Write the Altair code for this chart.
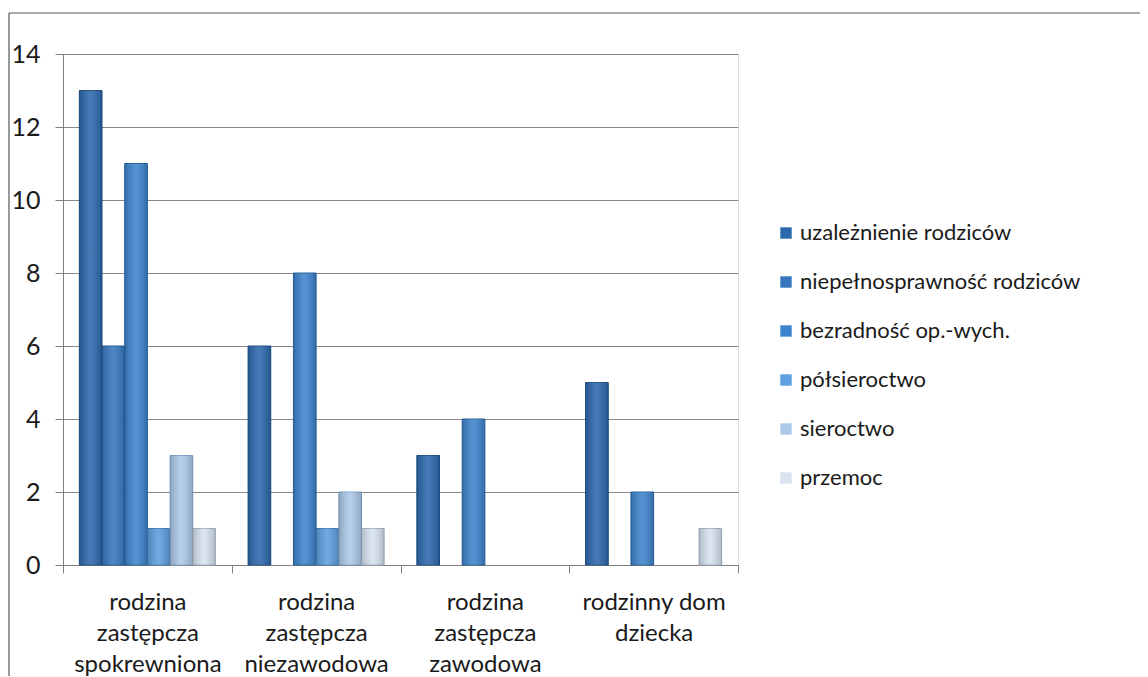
import altair as alt
import pandas as pd

categories = [
    "rodzina|zastępcza|spokrewniona",
    "rodzina|zastępcza|niezawodowa",
    "rodzina|zastępcza|zawodowa",
    "rodzinny dom|dziecka",
]
series = [
    "uzależnienie rodziców",
    "niepełnosprawność rodziców",
    "bezradność op.-wych.",
    "półsieroctwo",
    "sieroctwo",
    "przemoc",
]
values = {
    "uzależnienie rodziców":      [13, 6, 3, 5],
    "niepełnosprawność rodziców": [6, 0, 0, 0],
    "bezradność op.-wych.":       [11, 8, 4, 2],
    "półsieroctwo":               [1, 1, 0, 0],
    "sieroctwo":                  [3, 2, 0, 0],
    "przemoc":                    [1, 1, 0, 1],
}
colors = ["#2c68ad", "#3677bf", "#3d84cd", "#5d9fdf", "#adc9ea", "#d8e3ef"]
strokes = ["#1d4f86", "#24589a", "#2a63a3", "#3f7fc0", "#7fa3cc", "#9fb3c9"]
y_ticks = [0, 2, 4, 6, 8, 10, 12, 14]

rows = []
for s in series:
    for c, v in zip(categories, values[s]):
        rows.append({"cat": c, "series": s, "value": v})
df = pd.DataFrame(rows)

FONT = "Lato"
W, H = 675, 511

bars = alt.Chart(df).mark_bar(strokeWidth=1).encode(
    x=alt.X("cat:N", sort=categories,
            scale=alt.Scale(paddingInner=0, paddingOuter=0),
            axis=alt.Axis(title=None, labelExpr="split(datum.label, '|')",
                          labelAngle=0, labelFontSize=24, labelLineHeight=31,
                          labelColor="#1a1a1a", labelFont=FONT, labelPadding=17,
                          tickBand="extent", tickSize=8, tickColor="#808080",
                          domainColor="#808080", grid=False)),
    xOffset=alt.XOffset("series:N", sort=series,
                        scale=alt.Scale(domain=series, paddingInner=0, paddingOuter=0.72)),
    y=alt.Y("value:Q",
            scale=alt.Scale(domain=[0, 14], nice=False),
            axis=alt.Axis(title=None, values=y_ticks, labelFontSize=25,
                          labelFont=FONT, labelColor="#1a1a1a", labelPadding=15,
                          tickSize=8, tickColor="#808080", domainColor="#808080",
                          gridColor="#8a8a8a", gridWidth=1)),
    color=alt.Color("series:N", sort=series,
                    scale=alt.Scale(domain=series, range=colors),
                    legend=alt.Legend(title=None, orient="none", legendX=712, legendY=168,
                                      symbolType="square", symbolSize=130,
                                      symbolStrokeWidth=0,
                                      labelFontSize=22, labelFont=FONT,
                                      labelColor="#1a1a1a", rowPadding=27,
                                      labelOffset=3, labelLimit=400)),
    stroke=alt.Stroke("series:N", sort=series,
                      scale=alt.Scale(domain=series, range=strokes), legend=None),
    strokeOpacity=alt.condition("datum.value == 0", alt.value(0), alt.value(1)),
)

shade = alt.Chart(df).mark_bar(
    color=alt.Gradient(
        gradient="linear", x1=0, x2=1, y1=0, y2=0,
        stops=[
            alt.GradientStop(color="rgba(0,0,0,0.18)", offset=0),
            alt.GradientStop(color="rgba(255,255,255,0.12)", offset=0.5),
            alt.GradientStop(color="rgba(0,0,0,0.18)", offset=1),
        ],
    )
).encode(
    x=alt.X("cat:N", sort=categories),
    xOffset=alt.XOffset("series:N", sort=series),
    y=alt.Y("value:Q"),
)

frame_top = alt.Chart().mark_rule(color="#555555", strokeWidth=1.2).encode(
    x=alt.value(-54), x2=alt.value(1200), y=alt.value(-41))
frame_left = alt.Chart().mark_rule(color="#555555", strokeWidth=1.2).encode(
    x=alt.value(-54), y=alt.value(-41), y2=alt.value(700))

chart = alt.layer(bars, shade, frame_top, frame_left).properties(
    width=W, height=H,
    autosize=alt.AutoSizeParams(type="none"),
    padding={"left": 55, "top": 46, "right": 402, "bottom": 111},
).configure_view(stroke=None).configure(background="white")

chart.save("out.html", embed_options={"renderer": "svg", "actions": False})
